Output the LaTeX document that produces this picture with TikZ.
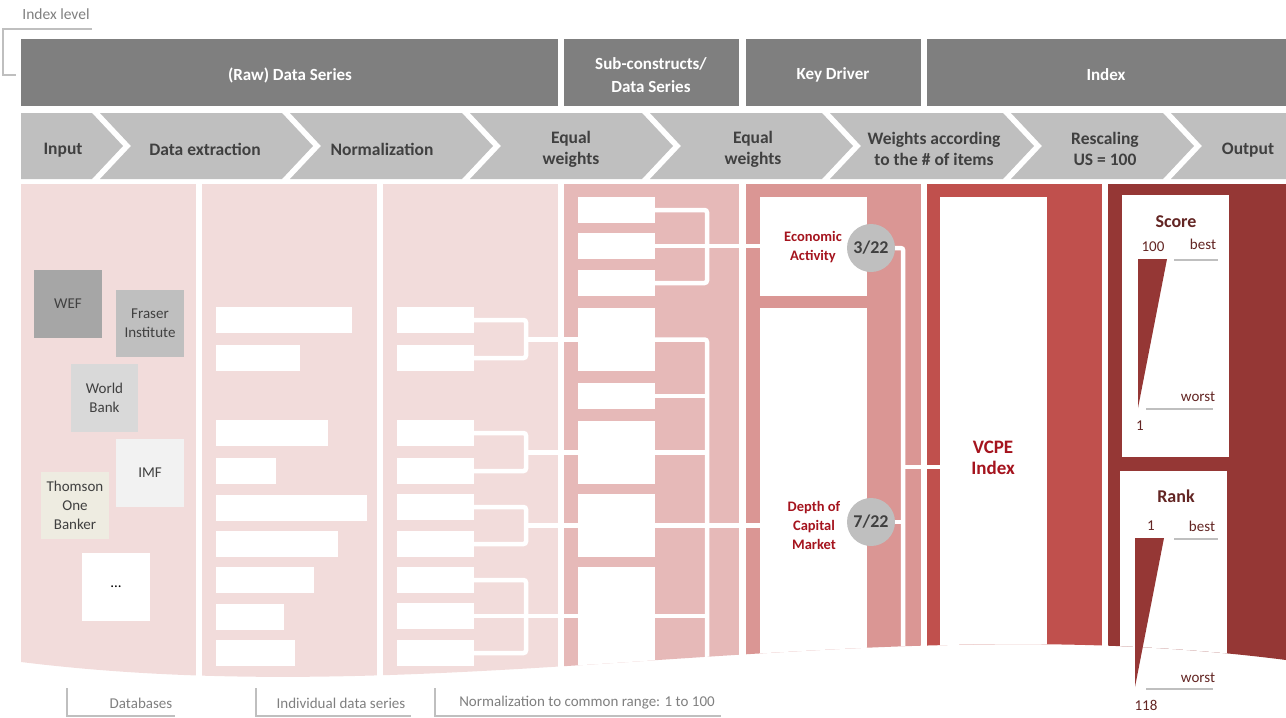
\documentclass[tikz,border=0pt]{standalone}
\usepackage{fontspec}
\setmainfont{Carlito}
\usetikzlibrary{calc}
\definecolor{hdr}{HTML}{7F7F7F}
\definecolor{chev}{HTML}{BFBFBF}
\definecolor{ctext}{HTML}{404040}
\definecolor{pinkA}{HTML}{F2DCDB}
\definecolor{pinkB}{HTML}{E6B9B8}
\definecolor{pinkC}{HTML}{DA9694}
\definecolor{redD}{HTML}{C0504D}
\definecolor{redE}{HTML}{953735}
\definecolor{maroon}{HTML}{632523}
\definecolor{dred}{RGB}{165,20,30}
\definecolor{lgray}{HTML}{BFBFBF}
\definecolor{ftext}{HTML}{7F7F7F}
\definecolor{dbA}{HTML}{A6A6A6}
\definecolor{dbB}{HTML}{BFBFBF}
\definecolor{dbC}{HTML}{D9D9D9}
\definecolor{dbD}{HTML}{F2F2F2}
\definecolor{dbE}{HTML}{EEECE1}
\begin{document}
\begin{tikzpicture}[x=1pt,y=-1pt,
  hdrbox/.style={fill=hdr,inner sep=0pt,outer sep=0pt,anchor=north west,minimum height=67pt},
  hdrlbl/.style={inner sep=0pt,text=white,font=\fontsize{17}{23}\selectfont\bfseries,align=center},
  chevlbl/.style={inner sep=0pt,text=ctext,font=\fontsize{17.5}{21}\selectfont\bfseries,align=center},
  dbbox/.style={inner sep=0pt,outer sep=0pt,anchor=north west,text=ctext,
     font=\fontsize{15}{19}\selectfont,align=center,minimum width=68pt,minimum height=68pt},
  wbar/.style={fill=white,inner sep=0pt,outer sep=0pt,anchor=north west,minimum height=26pt},
  conn/.style={draw=white,line width=4.5pt,rounded corners=2.5pt},
  redlbl/.style={inner sep=0pt,text=dred,font=\fontsize{14.5}{19}\selectfont\bfseries,align=center},
  biglbl/.style={inner sep=0pt,text=dred,font=\fontsize{19}{21}\selectfont\bfseries,align=center},
  fracnode/.style={circle,fill=chev,inner sep=0pt,minimum size=48pt,text=ctext,font=\fontsize{18}{20}\selectfont\bfseries},
  mtext/.style={inner sep=0pt,text=maroon,font=\fontsize{15}{18}\selectfont},
  mhead/.style={inner sep=0pt,text=maroon,font=\fontsize{18}{20}\selectfont\bfseries},
  note/.style={inner sep=0pt,text=ftext,font=\fontsize{15}{17}\selectfont},
  bracket/.style={draw=lgray,line width=1.2pt},
  scaleline/.style={draw=lgray,line width=1.5pt},
]
\useasboundingbox (0,0) rectangle (1286,718);

% index level
\node[note,font=\fontsize{15.5}{17}\selectfont] (idxlvl) at (56,14) {Index level};
\draw[bracket] (92,29) -- (3,29) -- (3,75) -- (16,75);

% header bars
\node[hdrbox,minimum width=537pt] (h1) at (21,39) {};
\node[hdrbox,minimum width=175pt] (h2) at (564,39) {};
\node[hdrbox,minimum width=175pt] (h3) at (746,39) {};
\node[hdrbox,minimum width=359pt] (h4) at (927,39) {};
\node[hdrlbl] (h1l) at (290,75) {(Raw) Data Series};
\node[hdrlbl] (h2l) at (651,75) {Sub-constructs/\\Data Series};
\node[hdrlbl] (h3l) at (833,75) {Key Driver};
\node[hdrlbl] (h4l) at (1106,75) {Index};

% chevrons
\fill[chev] (21,113) -- (92,113) -- (123,146) -- (92,179) -- (21,179) -- cycle;
\fill[chev] (100,113) -- (282,113) -- (313,146) -- (282,179) -- (100,179) -- (131,146) -- cycle;
\fill[chev] (290,113) -- (462,113) -- (493,146) -- (462,179) -- (290,179) -- (321,146) -- cycle;
\fill[chev] (470,113) -- (642,113) -- (673,146) -- (642,179) -- (470,179) -- (501,146) -- cycle;
\fill[chev] (650,113) -- (822,113) -- (853,146) -- (822,179) -- (650,179) -- (681,146) -- cycle;
\fill[chev] (830,113) -- (1003,113) -- (1034,146) -- (1003,179) -- (830,179) -- (861,146) -- cycle;
\fill[chev] (1011,113) -- (1163,113) -- (1194,146) -- (1163,179) -- (1011,179) -- (1042,146) -- cycle;
\fill[chev] (1171,113) -- (1286,113) -- (1286,179) -- (1171,179) -- (1202,146) -- cycle;

\node[chevlbl] (cl1) at (63,150) {Input};
\node[chevlbl] (cl2) at (205,149) {Data extraction};
\node[chevlbl] (cl3) at (382,149) {Normalization};
\node[chevlbl] (cl4) at (571,149) {Equal\\weights};
\node[chevlbl] (cl5) at (753,149) {Equal\\weights};
\node[chevlbl] (cl6) at (934,149) {Weights according\\to the \# of items};
\node[chevlbl] (cl7) at (1105,149) {Rescaling\\US = 100};
\node[chevlbl] (cl8) at (1248,150) {Output};

% body
\begin{scope}
\clip (21,184) -- (21,662) .. controls (450,715) and (860,605) .. (1286,660) -- (1286,184) -- cycle;
\fill[pinkA] (21,184) rectangle (196,720);
\fill[pinkA] (202,184) rectangle (377,720);
\fill[pinkA] (383,184) rectangle (558,720);
\fill[pinkB] (564,184) rectangle (739,720);
\fill[pinkC] (746,184) rectangle (921,720);
\fill[redD] (927,184) rectangle (1102,720);
\fill[redE] (1108,184) rectangle (1286,720);

% databases
\node[dbbox,fill=dbA] (wef) at (34,270) {WEF};
\node[dbbox,fill=dbB,minimum height=67pt] (fraser) at (116,290) {Fraser\\Institute};
\node[dbbox,fill=dbC,minimum width=67pt] (wb) at (71,364) {World\\Bank};
\node[dbbox,fill=dbD] (imf) at (116,439) {IMF};
\node[dbbox,fill=dbE,minimum height=67pt] (tob) at (41,472) {Thomson\\One\\Banker};
\node[dbbox,fill=white,text=black] (more) at (82,553) {...};

% individual series
\foreach \i/\y/\w in {1/307/136,2/345/84,3/420/112,4/458/60,5/495/151,6/531/122,7/567/98,8/604/68,9/640/79}
  \node[wbar,minimum width=\w pt] (c2b\i) at (216,\y) {};
% normalized
\foreach \i/\y in {1/307,2/345,3/420,4/458,5/494,6/531,7/567,8/603,9/640}
  \node[wbar,minimum width=77pt] (c3b\i) at (397,\y) {};
% sub-constructs
\node[wbar,minimum width=77pt] (c4A) at (578,197) {};
\node[wbar,minimum width=77pt] (c4B) at (578,233) {};
\node[wbar,minimum width=77pt] (c4C) at (578,270) {};
\node[wbar,minimum width=77pt,minimum height=63pt] (c4D) at (578,308) {};
\node[wbar,minimum width=77pt] (c4E) at (578,383) {};
\node[wbar,minimum width=77pt,minimum height=63pt] (c4F) at (578,421) {};
\node[wbar,minimum width=77pt,minimum height=63pt] (c4G) at (578,494) {};
\node[wbar,minimum width=77pt,minimum height=160pt] (c4H) at (578,567) {};
% key drivers
\node[wbar,minimum width=107pt,minimum height=99pt] (ea) at (760,197) {};
\node[wbar,minimum width=107pt,minimum height=420pt] (dcm) at (760,308) {};
% index
\node[wbar,minimum width=107pt,minimum height=530pt] (vcpe) at (940,197) {};
% output
\node[wbar,minimum width=107pt,minimum height=262pt] (score) at (1122,195) {};
\node[wbar,minimum width=107pt,minimum height=260pt] (rank) at (1120,471) {};

% connectors column 3
\draw[conn] (c3b1.east) -- ++(52,0) |- (c3b2.east);
\draw[conn] (c4D.west) -- ++(-52,0);
\draw[conn] (c3b3.east) -- ++(52,0) |- (c3b4.east);
\draw[conn] (c4F.west) -- ++(-52,0);
\draw[conn] (c3b5.east) -- ++(52,0) |- (c3b6.east);
\draw[conn] (c4G.west) -- ++(-52,0);
\draw[conn] (c3b7.east) -- ++(52,0) |- (c3b9.east);
\draw[conn] (c3b8.east) -- (c3b8.east -| c4H.west);
% connectors column 4
\draw[conn] (c4A.east) -- ++(52,0) |- (c4C.east);
\draw[conn] (c4B.east) -- (c4B.east -| ea.west);
\draw[conn] (c4D.east) -- ++(52,0) -- ++(0,400);
\draw[conn] (c4E.east) -- ++(52,0);
\draw[conn] (c4F.east) -- ++(52,0);
\draw[conn] (c4G.east) -- (c4G.east -| dcm.west);
\coordinate (c4Hout) at (655,616);
\draw[conn] (c4Hout) -- ++(52,0);

% key driver labels and weights
\node[redlbl] (ealbl) at (813,247) {Economic\\Activity};
\node[redlbl] (dcmlbl) at (814,525) {Depth of\\Capital\\Market};
\node[fracnode] (f3) at (871,248) {3/22};
\node[fracnode] (f7) at (871,522) {7/22};
\draw[conn] (f3.east) -- ++(8,0) -- ++(0,450);
\draw[conn] (f7.east) -- ++(8.5,0);
\coordinate (vjoin) at (903,467);
\draw[conn] (vjoin) -- (vjoin -| vcpe.west);
\node[biglbl] (vcpelbl) at (993,458) {VCPE\\Index};
\end{scope}

% score panel
\node[mhead] (scoret) at (1176,222) {Score};
\node[mtext] (s100) at (1153,247) {100};
\node[mtext] (sbest) at (1203,244) {best};
\fill[redE] (1138,259) -- (1167,259) -- (1138,408) -- cycle;
\draw[scaleline] (1174,260) -- (1218,260);
\draw[scaleline] (1146,409) -- (1213,409);
\node[mtext] (sworst) at (1198,397) {worst};
\node[mtext] (s1) at (1140,426) {1};

% rank panel
\node[mhead] (rankt) at (1176,496) {Rank};
\node[mtext] (r1) at (1151,526) {1};
\node[mtext] (rbest) at (1202,526) {best};
\fill[redE] (1135,538) -- (1164,538) -- (1135,687) -- cycle;
\draw[scaleline] (1174,539) -- (1218,539);
\draw[scaleline] (1146,689) -- (1213,689);
\node[mtext] (rworst) at (1198,678) {worst};
\node[mtext] (r118) at (1146,705) {118};

% footnotes
\node[note] (n1) at (141,703) {Databases};
\draw[bracket] (67,688) -- (67,716) -- (175,716);
\node[note] (n2) at (341,703) {Individual data series};
\draw[bracket] (256,688) -- (256,716) -- (411,716);
\node[note] (n3) at (587,703) {Normalization to common range: 1 to 100};
\draw[bracket] (435,688) -- (435,716) -- (721,716);
\end{tikzpicture}
\end{document}
